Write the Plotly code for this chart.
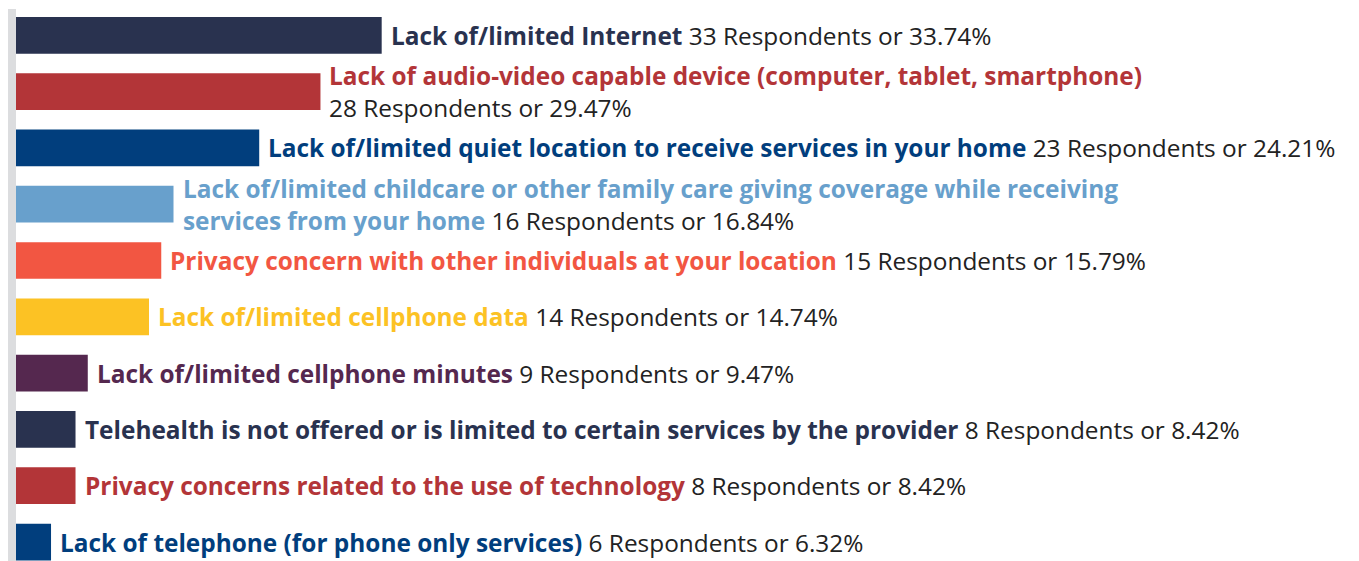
import plotly.graph_objects as go

categories = [
    "Lack of/limited Internet",
    "Lack of audio-video capable device (computer, tablet, smartphone)",
    "Lack of/limited quiet location to receive services in your home",
    "Lack of/limited childcare or other family care giving coverage while receiving services from your home",
    "Privacy concern with other individuals at your location",
    "Lack of/limited cellphone data",
    "Lack of/limited cellphone minutes",
    "Telehealth is not offered or is limited to certain services by the provider",
    "Privacy concerns related to the use of technology",
    "Lack of telephone (for phone only services)",
]
respondents = [33, 28, 23, 16, 15, 14, 9, 8, 8, 6]
percents = ["33.74", "29.47", "24.21", "16.84", "15.79", "14.74", "9.47", "8.42", "8.42", "6.32"]

colors = ["#29324F", "#B33538", "#013E7D", "#68A0CC", "#F25642",
          "#FCC224", "#55284F", "#29324F", "#B33538", "#013E7D"]

# where long labels wrap (text layout only)
wrap_label_after = {3: "giving coverage while receiving"}
value_new_line = {1}

FONT = "Open Sans"

fig = go.Figure()
fig.add_trace(go.Bar(
    y=categories,
    x=respondents,
    orientation="h",
    marker=dict(color=colors, line=dict(width=0)),
    width=0.652,
    hoverinfo="skip",
))

annotations = []
for i, (cat, n, p, c) in enumerate(zip(categories, respondents, percents, colors)):
    lab = cat
    if i in wrap_label_after:
        key = wrap_label_after[i]
        k = lab.index(key) + len(key)
        lab = lab[:k] + "<br>" + lab[k:].lstrip()
    sep = "<br>" if i in value_new_line else " "
    txt = (f"<b><span style='color:{c}'>{lab}</span></b>{sep}"
           f"{n} Respondents or {p}%")
    annotations.append(dict(
        x=n, y=cat, xref="x", yref="y",
        text=txt, showarrow=False,
        xanchor="left", yanchor="middle", align="left",
        xshift=7,
        font=dict(family=FONT, size=24.4, color="#222222"),
    ))

# the page body adds an 8px offset, so the figure is sized to fit the window
fig.update_layout(
    width=1351, height=553,
    margin=dict(l=8, r=0, t=1, b=0),
    paper_bgcolor="white",
    plot_bgcolor="white",
    showlegend=False,
    annotations=annotations,
    xaxis=dict(range=[3.14, 112.8], showgrid=False, zeroline=False,
               showticklabels=False, showline=False, fixedrange=True),
    yaxis=dict(type="category", range=[9.337, -0.467], showgrid=False,
               zeroline=False, showticklabels=False, ticks="",
               showline=True, linecolor="#DCDDDF", linewidth=9,
               fixedrange=True),
    font=dict(family=FONT),
)

fig.write_html("out.html", config={"displayModeBar": False})
